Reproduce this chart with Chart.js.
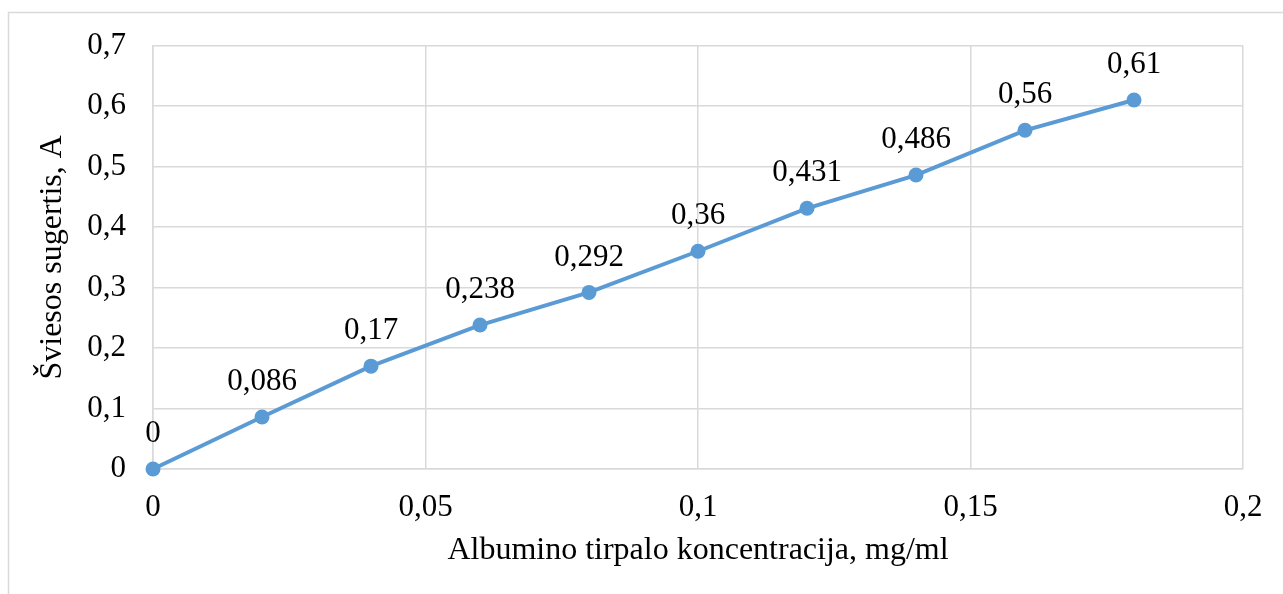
<!DOCTYPE html>
<html>
<head>
<meta charset="utf-8">
<script src="https://cdn.jsdelivr.net/npm/chart.js@4/dist/chart.umd.min.js"></script>
<style>
  html, body { margin: 0; padding: 0; background: #ffffff; }
  #wrap { width: 1283px; height: 594px; position: relative; }
</style>
</head>
<body>
<div id="wrap"><canvas id="c" width="1283" height="594"></canvas></div>
<script>
// Albumin calibration: concentration (mg/ml) vs absorbance (A)
const concentrations = [0, 0.02, 0.04, 0.06, 0.08, 0.1, 0.12, 0.14, 0.16, 0.18];
const absorbance = [0, 0.086, 0.17, 0.238, 0.292, 0.36, 0.431, 0.486, 0.56, 0.61];
const xTickLabels = ['0', '0,05', '0,1', '0,15', '0,2'];
const yTickLabels = ['0', '0,1', '0,2', '0,3', '0,4', '0,5', '0,6', '0,7'];

const FONT = '"Liberation Serif", "Times New Roman", serif';
const GRID = '#d9d9d9';
const LINE = '#5b9bd5';

const fmt = v => String(v).replace('.', ',');

// value labels above each point
const pointLabels = {
  id: 'pointLabels',
  afterDatasetsDraw(chart) {
    const ctx = chart.ctx;
    const meta = chart.getDatasetMeta(0);
    ctx.save();
    ctx.font = '31px ' + FONT;
    ctx.fillStyle = '#000';
    ctx.textAlign = 'center';
    ctx.textBaseline = 'middle';
    meta.data.forEach((pt, i) => {
      ctx.fillText(fmt(absorbance[i]), pt.x, pt.y - 35);
    });
    ctx.restore();
  }
};

// outer chart frame
const frame = {
  id: 'frame',
  beforeDraw(chart) {
    const ctx = chart.ctx;
    ctx.save();
    ctx.strokeStyle = GRID;
    ctx.lineWidth = 1.5;
    ctx.strokeRect(8.5, 12.5, 1400, 700);
    ctx.restore();
  }
};

new Chart(document.getElementById('c'), {
  type: 'scatter',
  data: {
    datasets: [{
      data: concentrations.map((x, i) => ({ x, y: absorbance[i] })),
      showLine: true,
      clip: false,
      borderColor: LINE,
      backgroundColor: LINE,
      borderWidth: 4,
      pointRadius: 7.5,
      pointHoverRadius: 7.5,
      pointBorderWidth: 0
    }]
  },
  options: {
    responsive: false,
    animation: false,
    layout: { padding: { left: 10, top: 44, right: 40, bottom: 0 } },
    plugins: { legend: { display: false }, tooltip: { enabled: false } },
    scales: {
      x: {
        type: 'linear',
        min: 0, max: 0.2,
        afterFit(s) { s.height = 125; },
        ticks: {
          stepSize: 0.05,
          padding: 20,
          color: '#000',
          font: { family: FONT, size: 31 },
          callback: (v, i) => xTickLabels[i]
        },
        grid: { color: GRID, lineWidth: 1.5, drawTicks: false },
        border: { color: GRID, width: 1.5 },
        title: {
          display: true,
          text: 'Albumino tirpalo koncentracija, mg/ml',
          color: '#000',
          font: { family: FONT, size: 32 },
          padding: { top: 0, bottom: 24 }
        }
      },
      y: {
        type: 'linear',
        min: 0, max: 0.7,
        afterFit(s) { s.width = 143; },
        ticks: {
          stepSize: 0.1,
          padding: 27,
          color: '#000',
          font: { family: FONT, size: 31 },
          callback: (v, i) => yTickLabels[i]
        },
        grid: { color: GRID, lineWidth: 1.5, drawTicks: false },
        border: { color: GRID, width: 1.5 },
        title: {
          display: true,
          text: 'Šviesos sugertis, A',
          color: '#000',
          font: { family: FONT, size: 32 },
          padding: { top: 23, bottom: 0 }
        }
      }
    }
  },
  plugins: [frame, pointLabels]
});
</script>
</body>
</html>
